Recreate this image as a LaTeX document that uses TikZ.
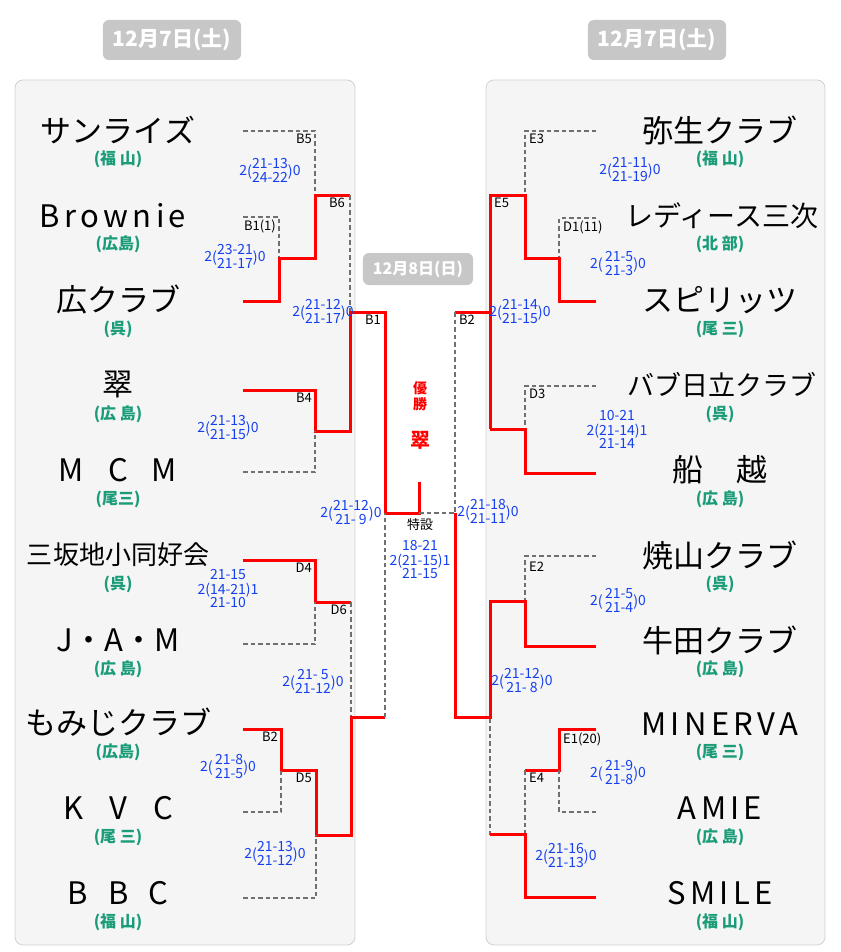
\documentclass[tikz,border=0pt]{standalone}
\usepackage{fontspec}
\setmainfont{Noto Sans CJK JP}
\newfontfamily\wideLatin[LetterSpace=14]{Noto Sans CJK JP}
\usetikzlibrary{positioning}
\definecolor{areagreen}{HTML}{1A9C78}
\definecolor{scoreblue}{HTML}{1540F0}
\definecolor{wonred}{HTML}{FF0000}
\definecolor{lostgray}{HTML}{707070}
\newcommand{\twoset}[2]{2\raisebox{-1pt}{\Large(}\begin{tabular}{@{}c@{}}#1\\#2\end{tabular}\raisebox{-1pt}{\Large)}0}
\newcommand{\threeset}[3]{\begin{tabular}{@{}c@{}}#1\\#2\\#3\end{tabular}}
\tikzset{
  team/.style={font=\fontsize{31}{34}\selectfont},
  area/.style={font=\bfseries\fontsize{16}{18}\selectfont,text=areagreen},
  score/.style={font=\fontsize{14}{14}\selectfont,text=scoreblue,inner sep=0pt,
    execute at begin node=\renewcommand{\arraystretch}{0.78}},
  tag/.style={font=\fontsize{13}{14}\selectfont,inner sep=1pt},
  won/.style={draw=wonred,line width=3pt},
  lost/.style={draw=lostgray,line width=2.6pt,dash pattern=on 4.5pt off 3pt},
  daybox/.style={fill=black!22,rounded corners=6pt,text=white,
    font=\bfseries\fontsize{21}{24}\selectfont,minimum height=40pt,inner xsep=10pt},
  panel/.style={fill=black!4,draw=black!18,line width=0.8pt,rounded corners=8pt}
}
\begin{document}
\begin{tikzpicture}[x=1pt,y=-1pt]
\useasboundingbox (0,0) rectangle (840,952);
% panels
\path[panel] (15,80) rectangle (355,945);
\path[panel] (486,80) rectangle (825,945);
\node[daybox] (day1) at (172,40) {12月7日(土)};
\node[daybox] (day2) at (657,40) {12月7日(土)};
\node[daybox,minimum height=32pt,font=\bfseries\fontsize{16}{18}\selectfont] (day3) at (418,269) {12月8日(日)};
% left teams
\node[team] (l1) at (118,130) {サンライズ};
\node[area] (a1) at (118,159) {(福 山)};
\node[team] (l2) at (113,216) {\wideLatin Brownie};
\node[area] (a2) at (118,244) {(広島)};
\node[team] (l3) at (118,300) {広クラブ};
\node[area] (a3) at (118,329) {(呉)};
\node[team] (l4) at (118,385) {翠};
\node[area] (a4) at (118,414) {(広 島)};
\node[team] (l5) at (118,470) {M\hspace{24pt}C\hspace{24pt}M};
\node[area] (a5) at (118,499) {(尾三)};
\node[team,font=\fontsize{26}{28}\selectfont] (l6) at (118,555) {三坂地小同好会};
\node[area] (a6) at (118,584) {(呉)};
\node[team] (l7) at (118,640) {J・A・M};
\node[area] (a7) at (118,669) {(広 島)};
\node[team] (l8) at (118,722) {もみじクラブ};
\node[area] (a8) at (118,752) {(広島)};
\node[team] (l9) at (118,808) {K\hspace{26pt}V\hspace{26pt}C};
\node[area] (a9) at (118,837) {(尾 三)};
\node[team] (l10) at (118,893) {B\hspace{20pt}B\hspace{20pt}C};
\node[area] (a10) at (118,922) {(福 山)};
% right teams
\node[team] (r1) at (720,130) {弥生クラブ};
\node[area] (b1) at (720,159) {(福 山)};
\node[team,font=\fontsize{28}{30}\selectfont] (r2) at (722,216) {レディース三次};
\node[area] (b2) at (720,244) {(北 部)};
\node[team] (r3) at (720,300) {スピリッツ};
\node[area] (b3) at (720,329) {(尾 三)};
\node[team,font=\fontsize{27}{30}\selectfont] (r4) at (722,385) {バブ日立クラブ};
\node[area] (b4) at (720,414) {(呉)};
\node[team] (r5) at (720,470) {船\hspace{34pt}越};
\node[area] (b5) at (720,499) {(広 島)};
\node[team] (r6) at (720,555) {焼山クラブ};
\node[area] (b6) at (720,584) {(呉)};
\node[team] (r7) at (720,640) {牛田クラブ};
\node[area] (b7) at (720,669) {(広 島)};
\node[team] (r8) at (720,724) {\wideLatin MINERVA};
\node[area] (b8) at (720,752) {(尾 三)};
\node[team] (r9) at (720,808) {\wideLatin AMIE};
\node[area] (b9) at (720,837) {(広 島)};
\node[team] (r10) at (720,893) {\wideLatin SMILE};
\node[area] (b10) at (720,922) {(福 山)};
% left bracket
\draw[lost] (243,131) -| (315,195);
\draw[lost] (243,217) -| (279,258);
\draw[won] (243,301) -| (279,258) -- (315,258) -- (315,195) -- (350,195);
\draw[lost] (350,195) -- (350,312);
\draw[won] (243,390) -| (315,431) -- (350,431) -- (350,312) -- (385,312) -- (385,513) -| (419,482);
\draw[lost] (243,472) -| (315,431);
\draw[won] (243,560) -| (315,602) -- (351,602);
\draw[lost] (243,644) -| (315,602);
\draw[lost] (351,602) -- (351,717);
\draw[won] (243,729) -| (281,770) -- (316,770) -- (316,835) -- (351,835) -- (351,717) -- (385,717);
\draw[lost] (243,812) -| (281,770);
\draw[lost] (243,898) -| (316,835);
\draw[lost] (385,717) -- (385,513);
% right bracket
\draw[lost] (596,131) -| (525,195);
\draw[lost] (596,218) -| (559,258);
\draw[won] (596,301) -| (559,258) -- (525,258) -- (525,195) -- (490,195) -- (490,429);
\draw[lost] (596,386) -| (525,429);
\draw[won] (596,473) -| (525,429) -- (490,429);
\draw[won] (490,312) -- (455,312);
\draw[lost] (455,312) -- (455,513) -- (419,513);
\draw[lost] (596,556) -| (525,601);
\draw[won] (596,646) -| (525,601) -- (490,601) -- (490,717) -- (455,717) -- (455,513);
\draw[won] (596,729) -| (559,770) -- (525,770);
\draw[lost] (596,812) -| (559,770);
\draw[lost] (525,770) -- (525,834) -- (490,834) -- (490,717);
\draw[won] (596,897) -| (525,834) -- (490,834);
% match tags
\node[tag,anchor=north east] at (313,133) {B5};
\node[tag,anchor=north east] at (277,219) {B1(1)};
\node[tag,anchor=north east] at (346,197) {B6};
\node[tag,anchor=north east] at (313,392) {B4};
\node[tag,anchor=north east] at (382,314) {B1};
\node[tag,anchor=north east] at (313,562) {D4};
\node[tag,anchor=north east] at (348,604) {D6};
\node[tag,anchor=north east] at (279,731) {B2};
\node[tag,anchor=north east] at (313,772) {D5};
\node[tag,anchor=north west] at (528,133) {E3};
\node[tag,anchor=north west] at (493,197) {E5};
\node[tag,anchor=north west] at (562,220) {D1(11)};
\node[tag,anchor=north west] at (458,314) {B2};
\node[tag,anchor=north west] at (528,388) {D3};
\node[tag,anchor=north west] at (528,561) {E2};
\node[tag,anchor=north west] at (562,732) {E1(20)};
\node[tag,anchor=north west] at (528,772) {E4};
\node[tag] at (420,525) {特設};
% champion
\node[font=\bfseries\fontsize{14}{16}\selectfont,text=wonred,align=center] (champ) at (420,396) {優\\勝};
\node[font=\bfseries\fontsize{20}{22}\selectfont,text=wonred,below=14pt of champ] (champteam) {翠};
% scores left
\node[score] at (270,172) {\twoset{21-13}{24-22}};
\node[score] at (235,258) {\twoset{23-21}{21-17}};
\node[score] at (323,313) {\twoset{21-12}{21-17}};
\node[score] at (228,429) {\twoset{21-13}{21-15}};
\node[score] at (351,514) {\twoset{21-12}{21-\ 9}};
\node[score] at (228,590) {\threeset{21-15}{2(14-21)1}{21-10}};
\node[score] at (313,683) {\twoset{21-\ 5}{21-12}};
\node[score] at (228,768) {\twoset{\,21-8}{\,21-5}};
\node[score] at (275,855) {\twoset{21-13}{21-12}};
% scores right
\node[score] at (630,171) {\twoset{21-11}{21-19}};
\node[score] at (618,265) {\twoset{\,21-5}{\,21-3}};
\node[score] at (520,313) {\twoset{21-14}{21-15}};
\node[score] at (617,431) {\threeset{10-21}{2(21-14)1}{21-14}};
\node[score] at (488,513) {\twoset{21-18}{21-11}};
\node[score] at (420,561) {\threeset{18-21}{2(21-15)1}{21-15}};
\node[score] at (618,602) {\twoset{\,21-5}{\,21-4}};
\node[score] at (522,682) {\twoset{21-12}{21-\ 8}};
\node[score] at (618,774) {\twoset{\,21-9}{\,21-8}};
\node[score] at (566,857) {\twoset{21-16}{21-13}};
\end{tikzpicture}
\end{document}
